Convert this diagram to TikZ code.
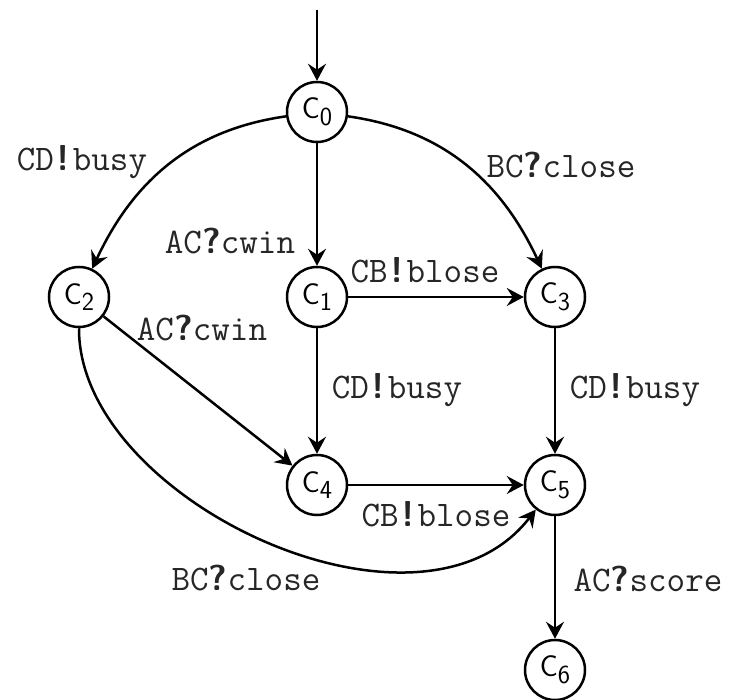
\documentclass[tikz,border=0pt]{standalone}
\usetikzlibrary{arrows.meta}
\newcommand{\st}[1]{{\fontsize{30}{30}\selectfont\sffamily C\raisebox{-0.22em}{\fontsize{26}{26}\selectfont #1}}}
\newcommand{\ex}{\makebox[0.525em]{\sffamily\bfseries !}}
\newcommand{\qu}{\makebox[0.525em]{\sffamily\bfseries ?}}
\begin{document}
\begin{tikzpicture}[x=1pt,y=-1pt,
  state/.style={circle,draw,line width=2.5pt,minimum size=60pt,inner sep=0pt},
  lbl/.style={font=\fontsize{36}{38}\selectfont\ttfamily,inner sep=0pt,text=black!85},
  edge/.style={line width=2.5pt,-{Stealth[length=17pt,width=18pt,inset=6pt]}}]
\useasboundingbox (0,0) rectangle (734,700);
\node[state] (c0) at (317,112) {\st{0}};
\node[state] (c1) at (317,297) {\st{1}};
\node[state] (c2) at (79,297) {\st{2}};
\node[state] (c3) at (555,297) {\st{3}};
\node[state] (c4) at (317,485) {\st{4}};
\node[state] (c5) at (555,485) {\st{5}};
\node[state] (c6) at (555,670) {\st{6}};
\coordinate (s) at (317,10);
\draw[edge] (s) -- (c0);
\draw[edge] (c0) to[out=188,in=65] (c2);
\draw[edge] (c0) to[out=-8,in=115] (c3);
\draw[edge] (c0) -- (c1);
\draw[edge] (c1) -- (c3);
\draw[edge] (c1) -- (c4);
\draw[edge] (c2) -- (c4);
\draw[edge] (c3) -- (c5);
\draw[edge] (c4) -- (c5);
\draw[edge] (c2.south) .. controls (78,500) and (420,660) .. (c5.232);
\draw[edge] (c5) -- (c6);
\node[lbl] (l1) at (82,162) {CD\ex busy};
\node[lbl] (l2) at (230,241) {AC\qu cwin};
\node[lbl] (l3) at (561,165) {BC\qu close};
\node[lbl] (l4) at (425,270) {CB\ex blose};
\node[lbl] (l5) at (202,328) {AC\qu cwin};
\node[lbl] (l6) at (397,390) {CD\ex busy};
\node[lbl] (l7) at (635,390) {CD\ex busy};
\node[lbl] (l8) at (436,514) {CB\ex blose};
\node[lbl] (l9) at (246,578) {BC\qu close};
\node[lbl] (l10) at (648,579) {AC\qu score};
\end{tikzpicture}
\end{document}
